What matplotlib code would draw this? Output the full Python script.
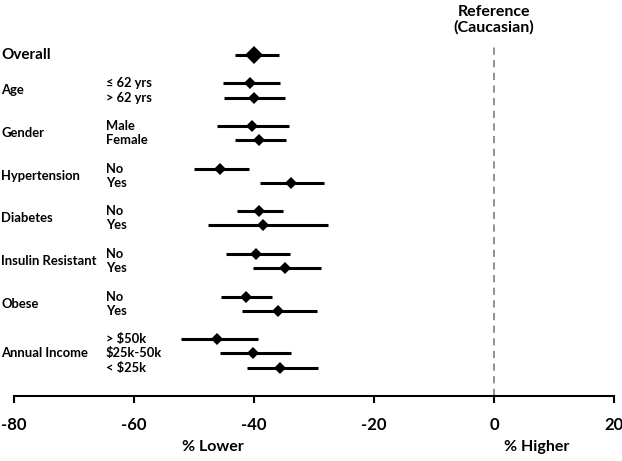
import numpy as np
import matplotlib.pyplot as plt
import matplotlib.transforms as mtransforms

plt.rcParams['font.family'] = ['Lato', 'DejaVu Sans']

# group labels and the row index they sit on
groups = ['Overall', 'Age', 'Gender', 'Hypertension', 'Diabetes',
          'Insulin Resistant', 'Obese', 'Annual Income']
group_rows = [0, 2.5, 5.5, 8.5, 11.5, 14.5, 17.5, 21]

# sub-category rows
sub_labels = ['', '≤ 62 yrs', '> 62 yrs', 'Male', 'Female', 'No', 'Yes',
              'No', 'Yes', 'No', 'Yes', 'No', 'Yes',
              '> $50k', '$25k-50k', '< $25k']
rows = [0, 2, 3, 5, 6, 8, 9, 11, 12, 14, 15, 17, 18, 20, 21, 22]
est = [-40.0, -40.6, -40.0, -40.4, -39.1, -45.7, -33.9, -39.1, -38.5,
       -39.6, -34.8, -41.4, -36.0, -46.1, -40.1, -35.6]
lo = [-43.2, -45.2, -45.0, -46.1, -43.1, -50.0, -39.0, -42.8, -47.7,
      -44.6, -40.2, -45.5, -42.0, -52.2, -45.7, -41.2]
hi = [-35.8, -35.6, -34.8, -34.1, -34.7, -40.9, -28.3, -35.2, -27.7,
      -34.0, -28.8, -37.0, -29.5, -39.3, -33.9, -29.3]

xticks = [-80, -60, -40, -20, 0, 20]

fig = plt.figure(figsize=(6.22, 4.61), dpi=100)
ax = fig.add_axes([14/622, 1-396/461, 600/622, 350/461])

for i in range(len(rows)):
    ax.plot([lo[i], hi[i]], [rows[i], rows[i]], color='black', lw=2.2, solid_capstyle='butt')
    ms = 9 if i == 0 else 6.5
    ax.plot(est[i], rows[i], marker='D', color='black', ms=ms, mew=0)

ax.axvline(0, color='#888888', lw=1.3, ls=(0, (4, 3)))

ax.set_xlim(-80, 20)
ax.set_ylim(24.0, -0.63)
ax.set_xticks(xticks)
ax.set_xticklabels([str(t) for t in xticks], fontsize=12, fontweight='bold')
ax.tick_params(axis='x', direction='out', length=5, width=1.5, pad=10)
ax.set_yticks([])
for s in ['top', 'right', 'left']:
    ax.spines[s].set_visible(False)
ax.spines['bottom'].set_linewidth(1.5)

trans = mtransforms.blended_transform_factory(fig.transFigure, ax.transData)
for g, r in zip(groups, group_rows):
    ax.text(1/622, r, g, transform=trans, fontsize=9.4 if g != 'Overall' else 11,
            fontweight='bold', va='center', ha='left')
for lab, r in zip(sub_labels, rows):
    ax.text(106/622, r, lab, transform=trans, fontsize=9.3,
            fontweight='bold', va='center', ha='left')

fig.text(494/622, 1-20/461, 'Reference\n(Caucasian)', ha='center', va='center',
         fontsize=11.5, fontweight='bold', linespacing=1.1)
fig.text(213/622, 1-447/461, '% Lower', ha='center', va='center', fontsize=11.5, fontweight='bold')
fig.text(537/622, 1-447/461, '% Higher', ha='center', va='center', fontsize=11.5, fontweight='bold')

fig.savefig('out.png', dpi=100)
